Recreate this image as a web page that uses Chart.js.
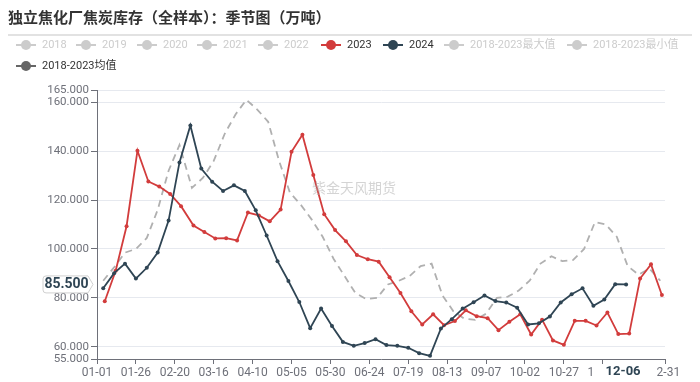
<!DOCTYPE html>
<html><head><meta charset="utf-8">
<script src="https://cdn.jsdelivr.net/npm/chart.js@4.4.1/dist/chart.umd.min.js"></script>
<style>
html,body{margin:0;padding:0;background:#fff;}
#wrap{position:relative;width:700px;height:382px;overflow:hidden;font-family:"Noto Sans CJK SC",sans-serif;}
#title{position:absolute;left:8px;top:6px;font-size:15px;font-weight:bold;color:#333;white-space:nowrap;line-height:22px;}
#sep{position:absolute;left:8px;top:34px;width:684px;height:2px;background:#e2e2e2;}
.lg{position:absolute;font-size:11px;line-height:16px;white-space:nowrap;display:flex;align-items:center;font-family:Roboto,"Noto Sans CJK SC",sans-serif;}
.ic{position:relative;width:20px;height:10px;margin-right:6px;}
.ic:before{content:"";position:absolute;left:0;top:4px;width:20px;height:2px;background:currentColor}
.ic:after{content:"";position:absolute;left:5px;top:0;width:10px;height:10px;border-radius:50%;background:currentColor}
canvas{position:absolute;left:0;top:0;}
#wm{position:absolute;left:312px;top:177px;font-size:14px;color:rgba(170,170,170,0.5);white-space:nowrap;}
</style></head>
<body>
<div id="wrap">
<canvas id="c" width="700" height="382"></canvas>
<div id="title">独立焦化厂焦炭库存（全样本）：季节图（万吨）</div>
<div id="sep"></div>
<div id="legend"></div>
<div id="wm">紫金天风期货</div>
</div>
<script>
// ---- data ----
const legendNames = ["2018","2019","2020","2021","2022","2023","2024","2018-2023最大值","2018-2023最小值","2018-2023均值"];
const legendActive = ["2023","2024","2018-2023均值"];
const yTickValues = [55,60,80,100,120,140,160,165];
const xTickDays = [0,25,50,75,100,125,150,175,200,225,250,275,300,325,365];

const start2023 = 5;   // 2023-01-06 (non-leap, mapped onto MM-DD axis)
const values2023 = [78.6,91.1,109.3,140.2,127.6,125.5,122.5,117.5,109.6,106.9,104.3,104.4,103.5,114.9,113.7,111.3,116.1,139.7,146.7,130.2,114.2,107.7,103.1,97.5,95.8,94.8,88.4,82.0,74.5,69.1,73.3,68.8,70.5,74.9,72.5,71.7,66.8,70.2,73.3,65.0,71.1,62.6,60.8,70.6,70.6,68.7,74.0,65.2,65.4,87.9,93.7,81.2];

const start2024 = 4;   // 2024-01-05 (leap year)
const values2024 = [83.9,90.1,94.0,87.9,92.3,98.5,111.6,135.4,150.5,132.9,127.5,123.7,126.0,123.7,115.8,105.5,95.0,86.9,78.3,67.6,75.6,68.5,62.0,60.4,61.5,63.1,60.7,60.4,59.6,57.4,56.3,67.5,71.3,75.6,78.2,81.0,78.7,78.1,76.0,69.1,69.6,72.4,78.1,81.5,83.9,76.8,79.3,85.6,85.5];

const startAvg = 4;
const valuesAvg = [87,92.5,98.5,100,104.5,116,132,142.5,125,129,136,147,155,161,157,152,136,123,118,112,105,96,89,82,79.5,80,85.5,87,89,93,94,81,74.5,71.5,71,73.5,80,80.5,83,87,94,97,95,95.5,100,111,110,105,93,89.5,92,87];

const pointerDayLabel = "12-06";
const pointerValue = 85.5;

// ---- helpers ----
const monthLens=[31,29,31,30,31,30,31,31,30,31,30,31];
const dayLabels=[];
monthLens.forEach((n,m)=>{for(let d=1;d<=n;d++)dayLabels.push(String(m+1).padStart(2,'0')+'-'+String(d).padStart(2,'0'));});
// nonLeap: series from a 365-day year, shift by one after Feb 28 to sit on the MM-DD axis
function weekly(start, vals, nonLeap){
  return vals.map((v,i)=>{let d=start+7*i; if(nonLeap&&d>=59)d+=1; return {x:d,y:v};});
}

// ---- legend ----
const lgPos=[[16,37],[76,37],[137,37],[197,37],[258,37],[321,37],[383,37],[444,37],[567,37],[16,58]];
const lgColors={"2023":"#d23c3c","2024":"#2f4554","2018-2023均值":"#666666"};
const lg=document.getElementById('legend');
legendNames.forEach((n,i)=>{
  const on=legendActive.includes(n);
  const el=document.createElement('div');
  el.className='lg';
  el.style.left=lgPos[i][0]+'px'; el.style.top=lgPos[i][1]+'px';
  el.style.color=on?'#333':'#cccccc';
  el.innerHTML='<span class="ic" style="color:'+(on?lgColors[n]:'#cccccc')+'"></span><span>'+n+'</span>';
  lg.appendChild(el);
});

// ---- pointer labels plugin ----
const pointerPlugin={
  id:'pointer',
  afterDraw(chart){
    const {ctx,scales:{x,y}}=chart;
    const px=x.getPixelForValue(dayLabels.indexOf(pointerDayLabel));
    ctx.save();
    ctx.fillStyle='#fff';
    ctx.fillRect(px-33,364,64,17);
    ctx.font='bold 13px Roboto';
    ctx.fillStyle='#2f4554';
    ctx.textAlign='center'; ctx.textBaseline='middle';
    ctx.fillText(pointerDayLabel,px-3,372);
    const py=y.getPixelForValue(pointerValue);
    const l=43,r=88,t=py-8.5,b=py+8.5;
    ctx.beginPath();
    ctx.moveTo(l+3,t);ctx.lineTo(r,t);ctx.lineTo(r+5,py);ctx.lineTo(r,b);ctx.lineTo(l+3,b);
    ctx.quadraticCurveTo(l,b,l,b-3);ctx.lineTo(l,t+3);ctx.quadraticCurveTo(l,t,l+3,t);
    ctx.closePath();
    ctx.fillStyle='#fff';ctx.fill();
    ctx.strokeStyle='#d0d0d0';ctx.lineWidth=1;ctx.stroke();
    ctx.font='bold 14px Roboto';ctx.fillStyle='#2f4554';
    ctx.fillText(pointerValue.toFixed(3),(l+r)/2+1,py+0.5);
    ctx.restore();
  }
};

new Chart(document.getElementById('c'),{
  type:'line',
  data:{datasets:[
    {label:'2024',data:weekly(start2024,values2024,false),borderColor:'#2f4554',backgroundColor:'#2f4554',borderWidth:1.8,pointRadius:2,pointBorderWidth:0,pointBackgroundColor:'#2f4554',tension:0},
    {label:'2023',data:weekly(start2023,values2023,true),borderColor:'#d23c3c',backgroundColor:'#d23c3c',borderWidth:1.8,pointRadius:2,pointBorderWidth:0,pointBackgroundColor:'#d23c3c',tension:0},
    {label:'2018-2023均值',data:weekly(startAvg,valuesAvg,true),borderColor:'#b0b0b0',borderWidth:1.8,borderDash:[7,5],pointRadius:0,tension:0}
  ]},
  options:{
    responsive:false,animation:false,
    layout:{padding:{left:0,right:35,top:90,bottom:0}},
    plugins:{legend:{display:false},tooltip:{enabled:false},title:{display:false}},
    scales:{
      x:{type:'linear',min:0,max:365,
        afterBuildTicks:s=>{s.ticks=xTickDays.map(v=>({value:v}));},
        afterFit:s=>{s.height=23;},
        ticks:{callback:v=>dayLabels[v],color:'#6e7079',font:{size:12,family:'Roboto'},maxRotation:0,minRotation:0,autoSkip:false,padding:2},
        grid:{drawOnChartArea:false,drawTicks:true,tickLength:5,tickColor:'#6e7079'},
        border:{color:'#6e7079'}},
      y:{min:55,max:165,
        afterBuildTicks:s=>{s.ticks=yTickValues.map(v=>({value:v}));},
        afterFit:s=>{s.width=97;},
        ticks:{callback:v=>Number(v).toFixed(3),color:'#6e7079',font:{size:11.5,family:'Roboto'},padding:2,autoSkip:false},
        grid:{color:'#e6e9ef',tickColor:'#6e7079',tickLength:6},
        border:{color:'#6e7079'}}
    }
  },
  plugins:[pointerPlugin]
});
</script>
</body></html>
